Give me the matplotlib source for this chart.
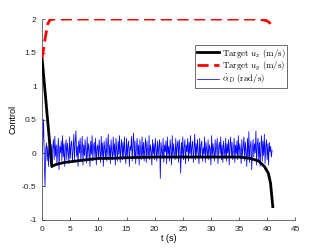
import matplotlib
matplotlib.use("Agg")
from matplotlib import pyplot as plt
import numpy as np

# target u_x (black)
ux_t = [0, 1.7, 2.5, 4, 6, 8, 10, 12, 15, 20, 25, 30, 35, 37, 38.5, 39.5, 40.2, 40.6, 41.0]
ux_v = [1.4, -0.2, -0.17, -0.14, -0.12, -0.10, -0.08, -0.08, -0.07, -0.06, -0.06, -0.06,
        -0.06, -0.08, -0.12, -0.2, -0.3, -0.45, -0.8]

# target u_y (red dashed)
uy_t = [0, 0.5, 1.0, 1.4, 2, 38, 39, 39.8, 40.4, 41.0]
uy_v = [1.42, 1.7, 1.93, 1.99, 2.0, 2.0, 1.99, 1.98, 1.95, 1.87]

# alpha_D rate (blue), sampled every 0.125 s
alpha_dt = 0.125
alpha_v = [
    0.00, 0.20, 0.50, -0.10, -0.50, 0.05, 0.15, -0.12, 0.10, -0.20, 0.18, 0.02, -0.15, 0.12, -0.22, 0.08,
    0.20, -0.10, 0.25, -0.05, 0.12, -0.18, 0.06, 0.22, -0.25, 0.10, 0.00, 0.18, -0.12, 0.26, -0.06, 0.14,
    -0.20, 0.08, 0.20, -0.10, 0.15, 0.02, -0.16, 0.24, -0.08, 0.12, 0.18, -0.14, 0.05, 0.28, -0.10, 0.16,
    0.33, -0.05, 0.10, -0.20, 0.18, 0.00, 0.22, -0.12, 0.08, 0.25, -0.18, 0.12, -0.04, 0.20, 0.02, -0.15,
    0.24, -0.08, 0.14, 0.05, -0.20, 0.18, -0.02, 0.26, -0.12, 0.10, 0.16, -0.06, 0.22, -0.18, 0.08, 0.12,
    -0.10, 0.20, 0.04, -0.14, 0.25, -0.05, 0.15, -0.20, 0.18, 0.06, -0.08, 0.22, -0.12, 0.10, 0.28, -0.06,
    0.12, -0.16, 0.20, 0.02, -0.10, 0.24, -0.04, 0.14, -0.18, 0.22, 0.06, -0.12, 0.18, -0.02, 0.26, -0.14,
    0.08, 0.20, -0.10, 0.16, -0.06, 0.24, 0.00, -0.16, 0.22, -0.08, 0.12, 0.18, -0.20, 0.10, 0.04, 0.25,
    -0.12, 0.14, 0.30, -0.08, 0.18, -0.16, 0.06, 0.22, -0.04, 0.12, -0.18, 0.20, 0.02, -0.10, 0.24, -0.06,
    0.16, -0.12, 0.08, 0.22, -0.14, 0.18, 0.00, -0.08, 0.26, -0.10, 0.12, 0.04, -0.18, 0.20, -0.02, 0.14,
    -0.10, 0.22, 0.06, -0.12, 0.18, -0.04, 0.10, 0.20, -0.38, 0.16, 0.04, -0.08, 0.22, -0.14, 0.12, 0.02,
    0.18, -0.16, 0.24, -0.02, 0.10, -0.12, 0.20, 0.06, -0.18, 0.26, -0.06, 0.14, 0.00, -0.10, 0.22, -0.08,
    0.12, 0.18, -0.14, 0.20, 0.04, -0.30, 0.16, -0.04, 0.24, -0.10, 0.08, 0.20, -0.16, 0.12, 0.02, 0.22,
    -0.12, 0.16, -0.02, 0.26, -0.08, 0.10, 0.18, -0.14, 0.06, 0.28, -0.10, 0.14, -0.04, 0.20, 0.00, -0.16,
    0.22, -0.06, 0.12, 0.18, -0.12, 0.08, -0.02, 0.24, -0.14, 0.16, 0.04, -0.08, 0.20, -0.10, 0.12, 0.06,
    -0.18, 0.26, -0.04, 0.14, 0.02, -0.12, 0.20, -0.06, 0.10, 0.22, -0.16, 0.08, 0.16, -0.02, 0.24, -0.10,
    0.12, -0.14, 0.18, 0.04, -0.08, 0.22, -0.12, 0.14, 0.00, 0.20, -0.18, 0.10, 0.24, -0.06, 0.16, -0.10,
    0.06, 0.22, -0.14, 0.12, -0.02, 0.18, -0.10, 0.26, -0.06, 0.14, 0.04, -0.16, 0.20, -0.04, 0.10, 0.24,
    -0.12, 0.16, 0.02, -0.20, 0.22, -0.08, 0.32, -0.14, 0.10, 0.18, -0.25, 0.06, 0.20, -0.06, 0.14, 0.00,
    0.33, -0.18, 0.12, 0.22, -0.10, 0.16, -0.20, 0.08, 0.26, -0.12, 0.18, -0.04, 0.28, -0.16, 0.10, 0.20,
    -0.10, 0.14, -0.18, 0.16, 0.02, 0.10, -0.06, 0.04,
]
alpha_t = np.arange(len(alpha_v)) * alpha_dt

x_ticks = [0, 5, 10, 15, 20, 25, 30, 35, 40, 45]
y_ticks = [-1, -0.5, 0, 0.5, 1, 1.5, 2]
y_labels = ["-1", "-0.5", "0", "0.5", "1", "1.5", "2"]

plt.rcParams["mathtext.fontset"] = "cm"
plt.rcParams["font.family"] = "Liberation Sans"

fig = plt.figure(figsize=(3.27, 2.48), dpi=100)
ax = fig.add_axes([0.129, 0.113, 0.774, 0.810])

ax.plot(ux_t, ux_v, color="black", lw=2.0, label=r"$\mathrm{Target}\ u_x\ \mathrm{(m/s)}$", zorder=3)
ax.plot(uy_t, uy_v, color="red", lw=2.0, dashes=(4, 2), label=r"$\mathrm{Target}\ u_y\ \mathrm{(m/s)}$", zorder=3)
ax.plot(alpha_t, alpha_v, color="blue", lw=0.55, label=r"$\dot{\alpha}_D\ \mathrm{(rad/s)}$", zorder=2)

ax.set_xlim(0, 45)
ax.set_ylim(-1, 2)
ax.set_xticks(x_ticks)
ax.set_yticks(y_ticks)
ax.set_yticklabels(y_labels)
ax.tick_params(direction="in", length=2, width=0.5, labelsize=6, colors="#262626", pad=4)

for side in ["top", "right"]:
    ax.spines[side].set_visible(False)
for side in ["left", "bottom"]:
    ax.spines[side].set_linewidth(0.6)
    ax.spines[side].set_color("#555555")

ax.set_xlabel("t (s)", fontsize=6.5, labelpad=1)
ax.set_ylabel("Control", fontsize=6.5, labelpad=3)

leg = ax.legend(loc="upper right", bbox_to_anchor=(0.968, 0.872), fontsize=6.4,
                fancybox=False, framealpha=1, edgecolor="#555555",
                handlelength=2.5, handletextpad=0.25, borderpad=0.2,
                labelspacing=0.0, borderaxespad=0)
leg.get_frame().set_linewidth(0.6)

fig.savefig("out.png", dpi=100)
